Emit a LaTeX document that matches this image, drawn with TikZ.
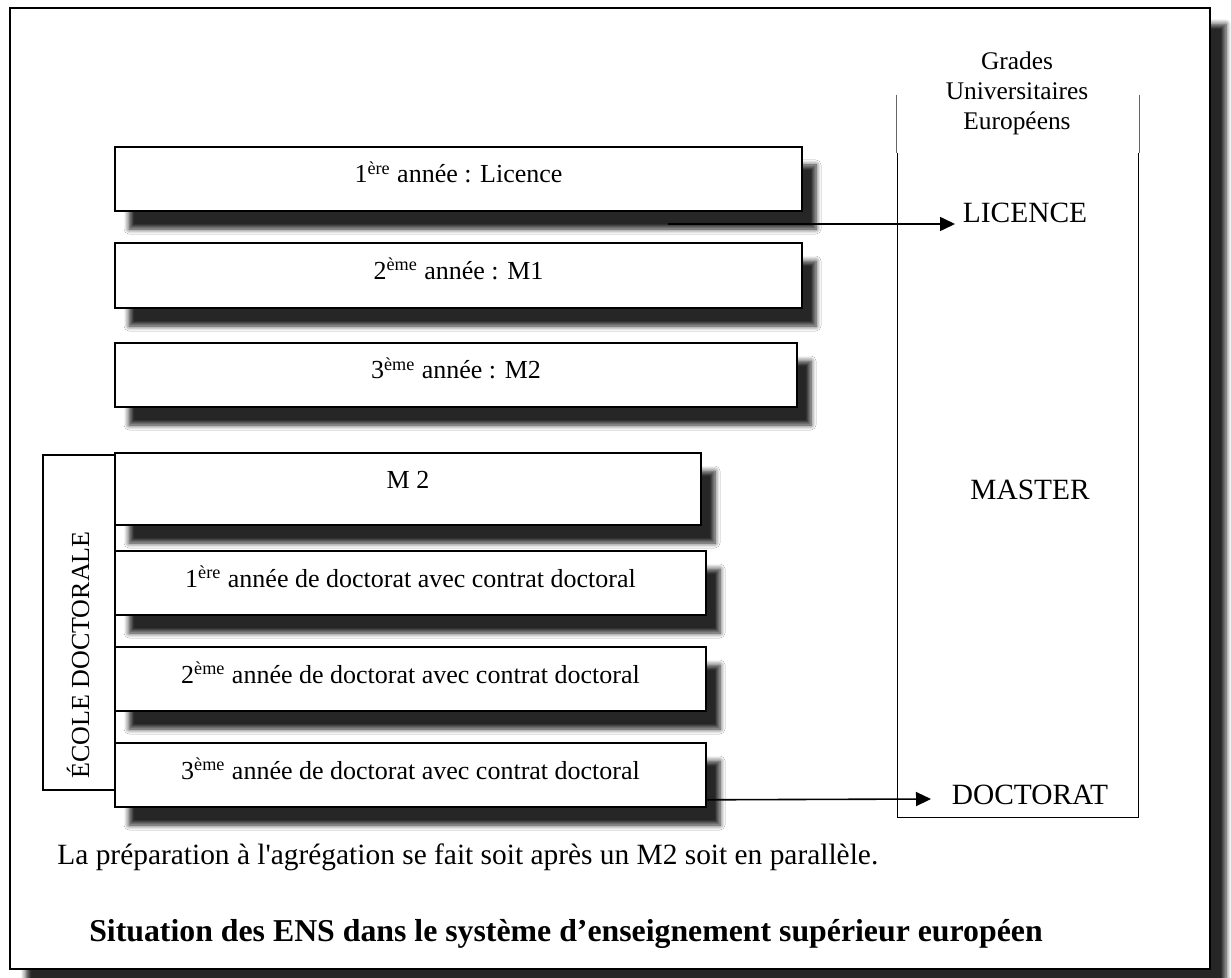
\documentclass[tikz,border=0pt]{standalone}
\usepackage{fontspec}
\setmainfont{Liberation Serif}
\usepackage{tikz}
\usetikzlibrary{arrows.meta,shadows.blur,calc}

\tikzset{
  yearbox/.style={draw, line width=0.8pt, fill=white, inner sep=0pt,
    font=\fontsize{13}{15.6}\selectfont, text height=9pt, text depth=5pt,
    blur shadow={shadow xshift=7pt, shadow yshift=-9pt, shadow blur radius=2.5pt,
      shadow blur steps=6, shadow opacity=85}},
  gradelabel/.style={font=\fontsize{14.7}{17}\selectfont, inner sep=0pt},
  linkarrow/.style={line width=0.8pt, -{Triangle[length=7.5pt,width=7pt]}},
}

\begin{document}
\begin{tikzpicture}[x=0.5pt,y=0.5pt,yscale=-1,xscale=1]
\useasboundingbox (0,0) rectangle (1231,978);
%Shape: Rectangle (outer frame)
\node[draw, line width=1.1pt, fill=white, minimum width=600pt, minimum height=480.5pt, inner sep=0pt,
  blur shadow={shadow xshift=8pt, shadow yshift=-8pt, shadow blur radius=2.5pt,
    shadow blur steps=6, shadow opacity=85}] (frame) at (610,488.5) {};
%Shape: Rectangle (years)
\node[yearbox, minimum width=343.5pt, minimum height=32pt] (an1) at (458.5,179) {1\textsuperscript{ère} année : Licence};
\node[yearbox, minimum width=343.5pt, minimum height=32.5pt] (an2) at (458.5,275.5) {2\textsuperscript{ème} année : M1};
\node[yearbox, minimum width=341pt, minimum height=32pt] (an3) at (456,375) {3\textsuperscript{ème} année : M2};
%Shape: Rectangle (ecole doctorale)
\node[draw, line width=0.8pt, fill=white, minimum width=36pt, minimum height=167.5pt, inner sep=0pt] (ecole) at (79,622.5) {};
\node[rotate=90, font=\fontsize{13}{15.6}\selectfont, inner sep=0pt] (ecoletxt) at (78,655) {ÉCOLE DOCTORALE};
\node[yearbox, minimum width=293pt, minimum height=36pt, text depth=9.4pt] (m2) at (408,489) {M 2};
\node[yearbox, minimum width=295.5pt, minimum height=32pt] (doc1) at (410.5,583) {1\textsuperscript{ère} année de doctorat avec contrat doctoral};
\node[yearbox, minimum width=295.5pt, minimum height=32pt] (doc2) at (410.5,679) {2\textsuperscript{ème} année de doctorat avec contrat doctoral};
\node[yearbox, minimum width=295.5pt, minimum height=32pt] (doc3) at (410.5,775) {3\textsuperscript{ème} année de doctorat avec contrat doctoral};
%Shape: Rectangle (grades column, open at top)
\node[minimum width=120pt, minimum height=332pt, inner sep=0pt] (col) at (1018,485) {};
\draw[line width=0.8pt] (col.north west) |- (col.south east) -- (col.north east);
\node[minimum width=121pt, minimum height=29pt, inner sep=0pt] (head) at (1018,124) {};
\draw[line width=0.4pt, black!60] (head.north west) -- (head.south west) (head.north east) -- (head.south east);
% Text Node
\node[align=center, font=\fontsize{12.7}{15}\selectfont, inner sep=0pt] (gradestxt) at (1017,93) {Grades\\Universitaires\\Européens};
% Text Node
\node[gradelabel] (licence) at (1025,213) {LICENCE};
\node[gradelabel] (master) at (1030,490) {MASTER};
\node[gradelabel] (doctorat) at (1030,795) {DOCTORAT};
%Straight Lines
\coordinate (licstart) at (668,224);
\coordinate (licend) at (955,224);
\draw[linkarrow] (licstart) -- (licend);
\coordinate (docend) at (931,799);
\draw[linkarrow] ($(doc3.south east)+(0,-8)$) -- (docend);
% Text Node
\node[anchor=base west, font=\fontsize{14.7}{17}\selectfont, inner sep=0pt] (note) at (57,864) {La préparation à l\textquotesingle agrégation se fait soit après un M2 soit en parallèle.};
\node[anchor=base, font=\bfseries\fontsize{15.9}{18}\selectfont, inner sep=0pt] (title) at (566,941) {Situation des ENS dans le système d’enseignement supérieur européen};
\end{tikzpicture}
\end{document}
